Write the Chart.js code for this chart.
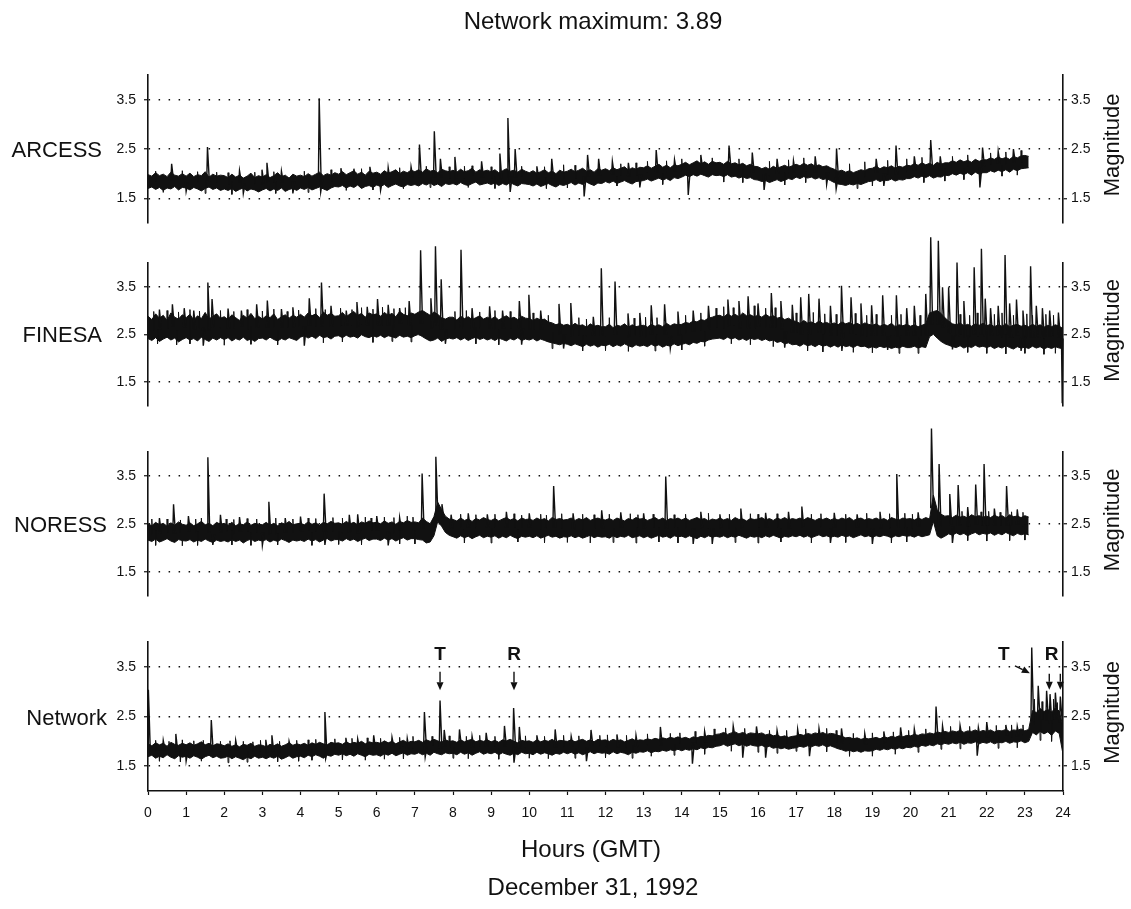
<!DOCTYPE html>
<html><head><meta charset="utf-8">
<script src="https://cdn.jsdelivr.net/npm/chart.js@4.4.1/dist/chart.umd.min.js"></script>
<style>
html,body{margin:0;padding:0;background:#fff;}
#wrap{position:relative;width:1131px;height:909px;overflow:hidden;background:#fff;}
canvas{position:absolute;left:0;}
</style></head><body>
<div id="wrap">
<canvas id="c1" width="1131" height="240" style="top:0px"></canvas>
<canvas id="c2" width="1131" height="192" style="top:230px"></canvas>
<canvas id="c3" width="1131" height="190" style="top:422px"></canvas>
<canvas id="c4" width="1131" height="297" style="top:612px"></canvas>
</div>
<script>
// ---------- DATA (hours 0..24 in 0.1 h steps: upper / lower edge of the dense trace) ----------
const STEP = 0.1;
const hourTicks = [0,1,2,3,4,5,6,7,8,9,10,11,12,13,14,15,16,17,18,19,20,21,22,23,24];
const magTicks = [1.5, 2.5, 3.5];
const stations = ['ARCESS', 'FINESA', 'NORESS', 'Network'];
const titleText = 'Network maximum: 3.89';
const axisTitle = 'Hours (GMT)';
const dateText = 'December 31, 1992';

const arcessHi = [
1.98,1.95,2.02,1.96,1.99,1.94,2.03,1.97,1.95,2.00, 1.95,2.01,1.94,1.98,1.96,2.04,1.93,1.99,1.95,1.97,
1.96,1.92,1.99,1.93,1.97,1.91,1.95,2.01,1.92,1.96, 1.93,1.98,1.92,1.96,2.02,1.94,1.97,1.91,1.99,1.95,
1.97,1.94,2.00,1.95,1.99,2.03,1.96,2.00,1.97,2.02, 1.99,2.04,1.98,2.02,2.06,1.99,2.03,1.97,2.05,2.01,
2.03,1.99,2.06,2.01,2.04,2.08,2.00,2.05,2.02,2.07, 2.04,2.08,2.03,2.10,2.05,2.07,2.02,2.09,2.06,2.04,
2.07,2.03,2.09,2.04,2.06,2.11,2.03,2.08,2.05,2.07, 2.04,2.08,2.02,2.06,2.10,2.05,2.07,2.03,2.09,2.05,
2.02,2.06,2.01,2.04,2.08,2.02,2.05,2.00,2.07,2.03, 2.05,2.09,2.04,2.07,2.11,2.05,2.08,2.03,2.10,2.07,
2.10,2.06,2.12,2.08,2.11,2.14,2.07,2.12,2.09,2.13, 2.12,2.16,2.11,2.15,2.19,2.13,2.17,2.12,2.18,2.16,
2.19,2.23,2.18,2.22,2.26,2.20,2.24,2.19,2.25,2.22, 2.23,2.19,2.25,2.20,2.22,2.18,2.21,2.16,2.19,2.15,
2.14,2.10,2.13,2.09,2.15,2.11,2.14,2.17,2.13,2.16, 2.19,2.16,2.21,2.17,2.20,2.15,2.18,2.14,2.16,2.12,
2.09,2.05,2.07,2.03,2.06,2.02,2.05,2.08,2.06,2.10, 2.11,2.15,2.10,2.14,2.12,2.16,2.11,2.15,2.13,2.17,
2.16,2.20,2.17,2.22,2.18,2.21,2.17,2.23,2.19,2.22, 2.22,2.26,2.23,2.28,2.24,2.27,2.23,2.29,2.25,2.28,
2.28,2.32,2.29,2.34,2.30,2.33,2.29,2.35,2.32,2.36, 2.37,2.35,null,null,null,null,null,null,null,null,
null];
const arcessLo = [
1.70,1.73,1.68,1.72,1.66,1.71,1.69,1.74,1.67,1.72, 1.71,1.67,1.72,1.69,1.65,1.70,1.73,1.68,1.71,1.66,
1.69,1.66,1.70,1.64,1.68,1.71,1.65,1.69,1.67,1.63, 1.67,1.70,1.65,1.69,1.66,1.71,1.64,1.68,1.70,1.66,
1.71,1.68,1.72,1.67,1.70,1.73,1.69,1.66,1.71,1.74, 1.73,1.76,1.71,1.75,1.72,1.77,1.70,1.74,1.76,1.72,
1.77,1.74,1.78,1.72,1.76,1.79,1.75,1.73,1.78,1.76, 1.78,1.75,1.80,1.77,1.81,1.76,1.79,1.74,1.80,1.78,
1.80,1.77,1.82,1.78,1.76,1.80,1.83,1.77,1.79,1.81, 1.78,1.81,1.76,1.80,1.77,1.82,1.78,1.75,1.80,1.79,
1.78,1.75,1.79,1.74,1.77,1.80,1.76,1.73,1.78,1.76, 1.79,1.82,1.77,1.81,1.78,1.83,1.79,1.76,1.81,1.80,
1.84,1.81,1.85,1.80,1.83,1.86,1.82,1.79,1.84,1.85, 1.86,1.89,1.85,1.88,1.91,1.87,1.90,1.86,1.92,1.90,
1.93,1.97,1.94,1.98,1.95,1.99,1.96,1.93,1.98,1.96, 1.97,1.94,1.98,1.93,1.95,1.91,1.94,1.90,1.92,1.88,
1.87,1.84,1.86,1.82,1.85,1.88,1.84,1.87,1.90,1.88, 1.93,1.90,1.94,1.91,1.93,1.89,1.92,1.88,1.90,1.86,
1.82,1.79,1.78,1.76,1.79,1.77,1.80,1.78,1.81,1.84, 1.85,1.88,1.84,1.87,1.86,1.89,1.85,1.88,1.87,1.90,
1.90,1.94,1.91,1.95,1.92,1.96,1.91,1.94,1.93,1.97, 1.96,2.00,1.97,2.01,1.98,2.02,1.97,2.03,1.99,2.02,
2.02,2.06,2.03,2.07,2.04,2.08,2.03,2.09,2.06,2.10, 2.11,2.12,null,null,null,null,null,null,null,null,
null];
const arcessSpikeHours = [0.62,1.00,1.56,2.40,2.50,2.99,3.12,3.50,3.80,4.49,4.53,5.06,5.40,5.82,6.10,6.30,6.90,7.12,7.51,7.67,
 8.05,8.75,9.23,9.44,9.50,9.63,10.20,10.59,11.44,11.53,11.82,12.18,12.60,12.90,13.33,13.81,14.17,14.50,15.24,15.85,
 16.16,16.50,16.93,17.50,17.80,18.05,18.06,19.10,19.30,19.62,20.10,20.53,20.78,21.82,21.89,22.30,22.70];
const arcessSpikeMags = [2.20,1.64,2.54,2.06,1.60,2.08,2.22,2.05,1.60,3.53,1.63,2.11,2.10,2.14,1.66,2.12,2.14,2.59,2.86,2.30,
 2.34,2.25,2.41,3.13,1.63,2.50,2.15,2.30,1.54,2.38,2.30,2.25,2.22,1.72,2.48,2.28,1.57,2.38,2.57,2.43,
 1.67,2.30,2.26,2.35,1.78,1.69,2.51,2.30,1.75,2.57,2.35,2.68,2.35,1.72,2.53,2.45,2.50];
const arcessHairHours = [0.2,0.9,1.3,1.8,2.1,2.8,3.3,4.1,4.8,5.6,6.6,7.3,7.9,8.3,8.5,9.0,9.8,10.4,10.9,11.2,
 12.4,12.8,13.1,13.6,14.0,14.8,15.5,16.3,16.8,17.2,18.4,18.8,19.4,19.9,20.3,21.1,21.5,22.1,22.5,22.9,
 0.4,1.5,2.2,3.35,4.2,5.2,5.9,6.7,7.4,8.4,9.1,10.45,11.0,12.3,13.5,15.1,15.6,16.7,17.25,18.6,19.0,20.35,20.9,21.4,22.4,22.8];
const arcessHairMags = [2.05,2.06,2.04,2.03,2.02,2.03,2.04,2.05,2.08,2.10,2.12,2.15,2.14,2.15,2.16,2.14,2.15,2.14,2.18,2.17,
 2.20,2.22,2.25,2.26,2.30,2.32,2.30,2.25,2.28,2.32,2.20,2.24,2.27,2.30,2.33,2.35,2.38,2.42,2.44,2.47,
 1.62,1.60,1.58,1.60,1.62,1.66,1.67,1.70,1.72,1.72,1.70,1.70,1.71,1.75,1.78,1.83,1.82,1.77,1.82,1.70,1.75,1.82,1.85,1.88,1.95,1.97];

const finesaHi = [
2.88,2.81,2.93,2.84,2.90,2.79,2.95,2.86,2.82,2.91, 2.85,2.92,2.80,2.89,2.83,2.96,2.82,2.88,2.93,2.84,
2.87,2.81,2.91,2.85,2.79,2.90,2.84,2.94,2.83,2.88, 2.82,2.89,2.85,2.93,2.81,2.87,2.91,2.84,2.90,2.86,
2.92,2.86,2.95,2.89,2.93,2.85,2.97,2.90,2.94,2.88, 2.89,2.96,2.87,2.93,2.98,2.90,2.94,2.86,2.95,2.91,
2.93,2.88,2.96,2.90,2.94,2.87,2.98,2.92,2.89,2.95, 2.92,2.97,3.00,2.95,2.90,2.97,2.92,2.85,2.82,2.86,
2.86,2.80,2.88,2.83,2.87,2.81,2.85,2.89,2.82,2.86, 2.82,2.87,2.80,2.85,2.89,2.83,2.86,2.81,2.88,2.84,
2.83,2.79,2.84,2.80,2.82,2.76,2.74,2.70,2.73,2.69, 2.71,2.67,2.73,2.68,2.70,2.65,2.72,2.67,2.69,2.66,
2.66,2.71,2.64,2.69,2.67,2.72,2.65,2.70,2.66,2.68, 2.69,2.65,2.71,2.67,2.70,2.66,2.73,2.68,2.72,2.70,
2.71,2.75,2.73,2.78,2.76,2.81,2.79,2.84,2.86,2.89, 2.90,2.86,2.93,2.88,2.92,2.87,2.95,2.89,2.91,2.87,
2.90,2.86,2.92,2.87,2.89,2.84,2.86,2.81,2.84,2.79, 2.77,2.73,2.79,2.74,2.76,2.72,2.78,2.73,2.75,2.71,
2.74,2.70,2.76,2.72,2.75,2.70,2.73,2.69,2.74,2.71, 2.69,2.72,2.67,2.71,2.68,2.73,2.66,2.70,2.68,2.71,
2.67,2.70,2.66,2.69,2.72,2.95,2.98,3.00,2.94,2.85, 2.78,2.72,2.70,2.74,2.68,2.71,2.67,2.72,2.69,2.73,
2.68,2.71,2.66,2.70,2.67,2.72,2.66,2.69,2.71,2.67, 2.69,2.66,2.71,2.67,2.70,2.65,2.69,2.66,2.70,2.67,
2.62];
const finesaLo = [
2.41,2.37,2.43,2.35,2.40,2.44,2.38,2.42,2.34,2.39, 2.43,2.38,2.41,2.36,2.44,2.39,2.35,2.42,2.38,2.43,
2.39,2.43,2.36,2.41,2.38,2.44,2.37,2.40,2.35,2.41, 2.42,2.38,2.44,2.39,2.36,2.41,2.38,2.43,2.40,2.37,
2.44,2.47,2.42,2.46,2.41,2.48,2.43,2.45,2.40,2.46, 2.47,2.43,2.48,2.44,2.46,2.42,2.49,2.45,2.43,2.47,
2.44,2.48,2.43,2.47,2.45,2.42,2.48,2.44,2.46,2.43, 2.47,2.50,2.45,2.40,2.36,2.38,2.42,2.35,2.40,2.42,
2.40,2.43,2.38,2.42,2.37,2.41,2.44,2.39,2.42,2.38, 2.41,2.37,2.42,2.39,2.36,2.41,2.38,2.43,2.37,2.40,
2.38,2.41,2.36,2.40,2.37,2.34,2.32,2.30,2.28,2.31, 2.29,2.26,2.30,2.27,2.24,2.29,2.25,2.28,2.23,2.27,
2.26,2.29,2.24,2.28,2.25,2.30,2.26,2.23,2.28,2.25, 2.27,2.24,2.29,2.25,2.28,2.23,2.27,2.25,2.30,2.26,
2.29,2.31,2.28,2.33,2.31,2.35,2.34,2.38,2.40,2.41, 2.42,2.39,2.44,2.40,2.43,2.38,2.41,2.37,2.42,2.39,
2.41,2.37,2.40,2.36,2.38,2.33,2.35,2.30,2.32,2.28, 2.29,2.25,2.30,2.26,2.28,2.24,2.29,2.25,2.27,2.23,
2.27,2.23,2.28,2.24,2.26,2.22,2.27,2.24,2.25,2.21, 2.24,2.21,2.25,2.22,2.24,2.20,2.23,2.21,2.25,2.22,
2.22,2.25,2.21,2.24,2.22,2.45,2.50,2.42,2.35,2.30, 2.27,2.24,2.22,2.26,2.21,2.25,2.22,2.27,2.23,2.25,
2.22,2.25,2.20,2.24,2.21,2.26,2.22,2.19,2.24,2.21, 2.23,2.20,2.25,2.21,2.24,2.19,2.23,2.20,2.24,2.21,
2.20];
const finesaSpikeHours = [0.30,0.64,0.95,1.20,1.45,1.57,1.68,2.10,2.45,2.85,3.13,3.50,3.80,4.10,4.23,4.55,4.80,5.20,5.48,5.75,
 6.02,6.30,6.60,6.85,7.15,7.42,7.54,7.69,7.80,8.21,8.50,8.96,9.30,9.74,9.80,9.99,10.30,10.78,10.90,11.09,
 11.68,11.89,12.25,12.59,12.90,13.20,13.55,13.70,13.90,14.30,14.70,15.21,15.50,15.74,16.00,16.35,16.60,16.70,16.90,17.12,
 17.33,17.60,17.90,18.19,18.20,18.44,18.70,18.98,19.27,19.40,19.63,19.90,20.10,20.40,20.53,20.73,20.84,21.00,21.10,21.22,
 21.40,21.67,21.86,21.96,22.10,22.30,22.48,22.60,22.78,22.90,22.95,23.15,23.30,23.46,23.65,23.88,23.98];
const finesaSpikeMags = [3.02,3.13,3.05,3.00,2.26,3.59,3.24,3.04,3.00,3.13,3.21,3.03,3.07,2.26,3.26,3.59,3.10,3.00,3.18,3.08,
 3.24,3.12,3.05,3.20,4.27,3.26,4.35,3.66,2.30,4.28,3.05,3.09,3.00,3.20,2.28,3.33,3.00,3.14,2.20,3.16,
 2.87,3.89,3.61,2.94,2.95,3.11,3.13,2.20,2.98,3.00,3.10,3.23,3.20,3.30,3.15,3.37,3.20,2.22,3.12,3.28,
 3.35,3.25,3.10,3.52,2.15,3.28,3.15,3.11,3.32,2.17,3.32,3.05,3.10,3.35,4.54,4.47,3.49,3.49,2.18,4.01,
 3.20,3.91,4.30,3.25,3.05,3.10,4.17,3.15,3.23,2.15,3.00,3.93,3.10,3.05,3.00,2.96,1.05];
const finesaHairHours = [0.15,0.5,0.8,1.1,1.35,1.9,2.25,2.6,3.0,3.3,3.65,3.95,4.4,4.65,5.05,5.35,5.6,5.9,6.15,6.45,6.75,
 8.05,8.35,8.7,9.1,9.5,10.1,10.5,11.3,11.5,12.1,12.75,13.05,13.35,14.1,14.5,14.9,15.1,15.35,15.9,16.2,16.45,
 17.0,17.45,17.75,18.05,18.55,18.85,19.1,19.5,19.75,20.25,21.3,21.55,21.75,22.2,22.4,22.7,23.05,23.2,23.55,23.75,
 0.25,0.75,1.1,2.0,2.7,3.4,4.6,5.1,5.9,6.4,6.9,8.6,9.2,10.6,11.4,12.0,12.6,13.3,14.0,14.6,15.3,15.8,16.4,
 17.3,17.7,18.5,19.0,19.7,20.2,21.5,22.0,22.5,23.0,23.5,23.8];
const finesaHairMags = [2.98,3.00,2.97,3.02,2.99,3.00,2.98,3.02,2.99,3.03,2.98,3.01,3.04,3.02,3.05,3.02,3.06,3.03,3.07,3.04,3.06,
 2.98,3.00,2.97,3.00,2.98,2.95,2.90,2.85,2.82,2.85,2.84,2.86,2.85,2.90,2.95,3.05,3.08,3.06,3.10,3.05,3.06,
 2.95,2.96,2.93,2.92,2.94,2.90,2.92,2.90,2.92,2.90,2.92,2.90,2.95,2.92,2.95,2.90,2.93,2.90,2.92,2.90,
 2.30,2.28,2.30,2.27,2.29,2.28,2.32,2.34,2.33,2.35,2.34,2.30,2.28,2.20,2.15,2.16,2.14,2.15,2.17,2.25,2.30,2.28,2.24,
 2.15,2.13,2.12,2.11,2.10,2.10,2.12,2.10,2.09,2.10,2.08,2.10];

const noressHi = [
2.50,2.46,2.53,2.48,2.51,2.45,2.52,2.47,2.54,2.49, 2.47,2.52,2.46,2.50,2.55,2.48,2.51,2.46,2.53,2.49,
2.51,2.47,2.53,2.46,2.50,2.48,2.54,2.47,2.51,2.49, 2.48,2.53,2.47,2.51,2.46,2.52,2.49,2.55,2.48,2.50,
2.51,2.48,2.54,2.49,2.52,2.47,2.53,2.50,2.55,2.51, 2.52,2.49,2.55,2.50,2.53,2.48,2.54,2.51,2.56,2.52,
2.53,2.50,2.56,2.51,2.54,2.49,2.55,2.52,2.57,2.53, 2.54,2.52,2.62,2.55,2.50,2.65,2.95,2.80,2.66,2.60,
2.59,2.56,2.62,2.57,2.60,2.55,2.61,2.58,2.63,2.59, 2.57,2.61,2.56,2.60,2.63,2.58,2.61,2.56,2.62,2.59,
2.60,2.57,2.62,2.58,2.61,2.56,2.63,2.59,2.61,2.58, 2.59,2.62,2.57,2.61,2.58,2.63,2.57,2.60,2.62,2.59,
2.58,2.61,2.57,2.62,2.59,2.56,2.61,2.58,2.63,2.60, 2.61,2.57,2.60,2.63,2.58,2.62,2.57,2.61,2.59,2.62,
2.58,2.62,2.57,2.60,2.63,2.59,2.61,2.56,2.60,2.58, 2.62,2.58,2.61,2.57,2.63,2.59,2.60,2.56,2.61,2.59,
2.60,2.63,2.58,2.61,2.57,2.62,2.59,2.63,2.58,2.61, 2.59,2.62,2.58,2.63,2.60,2.57,2.61,2.59,2.62,2.58,
2.61,2.58,2.62,2.59,2.63,2.57,2.60,2.62,2.58,2.61, 2.59,2.62,2.58,2.61,2.57,2.63,2.60,2.58,2.62,2.60,
2.61,2.58,2.62,2.59,2.63,2.60,3.10,2.80,2.70,2.66, 2.67,2.63,2.68,2.64,2.66,2.62,2.69,2.65,2.67,2.64,
2.66,2.63,2.68,2.64,2.67,2.62,2.69,2.65,2.66,2.63, 2.67,2.64,null,null,null,null,null,null,null,null,
null];
const noressLo = [
2.16,2.13,2.18,2.12,2.15,2.19,2.14,2.11,2.17,2.15, 2.14,2.17,2.12,2.16,2.13,2.18,2.14,2.11,2.16,2.13,
2.15,2.12,2.17,2.13,2.16,2.10,2.15,2.18,2.13,2.16, 2.14,2.17,2.12,2.16,2.13,2.18,2.15,2.11,2.16,2.14,
2.16,2.13,2.18,2.14,2.17,2.12,2.16,2.19,2.14,2.17, 2.17,2.14,2.19,2.15,2.18,2.13,2.17,2.20,2.15,2.18,
2.18,2.15,2.20,2.16,2.19,2.14,2.18,2.21,2.16,2.19, 2.19,2.17,2.16,2.10,2.12,2.25,2.55,2.45,2.32,2.26,
2.23,2.20,2.25,2.21,2.24,2.19,2.23,2.26,2.21,2.24, 2.22,2.25,2.20,2.24,2.21,2.26,2.22,2.19,2.24,2.22,
2.24,2.21,2.25,2.20,2.23,2.26,2.22,2.24,2.20,2.23, 2.22,2.25,2.21,2.24,2.20,2.23,2.26,2.21,2.24,2.22,
2.23,2.20,2.25,2.21,2.24,2.22,2.26,2.21,2.23,2.25, 2.21,2.24,2.20,2.23,2.26,2.22,2.24,2.20,2.25,2.23,
2.24,2.21,2.25,2.22,2.19,2.24,2.21,2.25,2.22,2.24, 2.22,2.25,2.21,2.24,2.22,2.26,2.23,2.20,2.24,2.22,
2.24,2.21,2.25,2.22,2.26,2.23,2.20,2.24,2.22,2.25, 2.23,2.26,2.22,2.25,2.21,2.24,2.27,2.23,2.25,2.22,
2.24,2.22,2.26,2.23,2.25,2.21,2.24,2.27,2.23,2.25, 2.22,2.25,2.23,2.26,2.24,2.21,2.25,2.23,2.26,2.24,
2.25,2.22,2.26,2.23,2.25,2.27,2.55,2.25,2.20,2.24, 2.29,2.26,2.31,2.27,2.30,2.25,2.29,2.32,2.27,2.30,
2.28,2.31,2.26,2.30,2.27,2.32,2.28,2.25,2.30,2.27, 2.29,2.27,null,null,null,null,null,null,null,null,
null];
const noressSpikeHours = [0.30,0.67,1.06,1.57,1.70,1.90,2.40,3.00,3.17,3.60,4.00,4.62,4.64,5.28,5.50,6.00,6.30,6.60,7.19,7.55,
 7.71,7.95,8.40,8.90,9.40,10.00,10.64,11.15,11.90,12.40,13.00,13.58,14.30,14.50,14.80,15.00,15.55,16.20,16.80,17.15,
 17.90,18.00,18.60,19.00,19.20,19.64,20.20,20.55,20.75,21.03,21.10,21.25,21.50,21.71,21.93,22.20,22.52,22.80];
const noressSpikeMags = [2.62,2.91,2.66,3.89,2.06,2.69,2.64,2.05,2.96,2.62,2.65,3.13,2.06,2.69,2.70,2.66,2.05,2.63,3.55,3.90,
 2.91,2.69,2.72,2.70,2.75,2.72,3.29,2.72,2.78,2.74,2.72,3.49,2.08,2.75,2.08,2.70,2.82,2.73,2.75,2.86,
 2.10,2.73,2.70,2.08,2.75,3.54,2.74,4.49,3.75,3.12,2.10,3.31,2.85,3.32,3.75,2.82,3.29,2.80];
const noressHairHours = [0.1,0.5,0.85,1.25,1.4,2.05,2.25,2.6,2.85,3.35,3.8,4.2,4.4,4.85,5.1,5.7,5.85,6.2,6.45,6.8,6.95,
 8.2,8.6,9.1,9.6,9.8,10.3,10.45,10.85,11.4,11.7,12.1,12.65,12.85,13.25,13.8,14.1,14.7,15.25,15.8,16.0,16.5,
 17.4,17.65,18.3,18.85,19.45,19.85,20.05,21.35,21.85,22.05,22.35,22.65,22.95,
 0.2,0.9,1.3,2.2,2.7,3.4,4.3,5.0,5.6,6.6,7.0,8.3,9.0,9.7,10.4,11.0,11.6,12.2,12.8,13.4,13.9,15.4,16.0,16.6,
 17.4,18.3,19.5,19.9,21.5,22.0,22.6,23.0];
const noressHairMags = [2.60,2.60,2.58,2.60,2.62,2.60,2.59,2.61,2.60,2.62,2.60,2.62,2.61,2.63,2.62,2.64,2.62,2.64,2.63,2.66,2.64,
 2.70,2.69,2.70,2.71,2.68,2.70,2.68,2.71,2.70,2.69,2.70,2.71,2.69,2.70,2.69,2.70,2.72,2.70,2.71,2.70,2.71,
 2.70,2.71,2.70,2.72,2.71,2.72,2.70,2.76,2.75,2.76,2.74,2.75,2.74,
 2.05,2.04,2.05,2.06,2.05,2.06,2.05,2.07,2.06,2.08,2.08,2.10,2.10,2.12,2.10,2.11,2.10,2.11,2.10,2.12,2.10,2.11,2.10,2.12,
 2.10,2.11,2.10,2.12,2.15,2.14,2.15,2.16];

const networkHi = [
1.95,1.91,1.97,1.93,1.96,1.90,1.98,1.94,1.92,1.96, 1.93,1.97,1.92,1.95,1.99,1.93,1.96,1.91,1.95,1.94,
1.91,1.95,1.90,1.93,1.89,1.94,1.92,1.96,1.90,1.93, 1.92,1.89,1.94,1.91,1.95,1.90,1.93,1.97,1.92,1.95,
1.93,1.96,1.92,1.97,1.94,1.98,1.95,1.93,1.98,1.96, 1.97,1.94,1.99,1.95,1.98,1.96,2.00,1.95,1.99,1.97,
1.98,1.96,2.01,1.97,2.00,1.95,1.99,2.02,1.97,2.00, 1.99,2.02,1.98,2.03,2.00,2.04,2.01,1.98,2.03,2.00,
2.01,1.98,2.03,1.99,2.02,2.04,1.99,2.02,2.00,2.03, 1.99,2.02,1.98,2.03,2.01,2.04,2.00,1.97,2.02,2.00,
2.01,1.98,2.03,1.99,2.02,2.00,2.04,1.99,2.02,2.01, 2.00,2.03,1.99,2.02,2.04,2.00,2.03,1.99,2.04,2.02,
2.03,2.00,2.04,2.01,2.03,1.99,2.02,2.05,2.01,2.03, 2.02,2.05,2.03,2.06,2.04,2.07,2.05,2.08,2.06,2.09,
2.06,2.08,2.05,2.09,2.07,2.10,2.09,2.12,2.11,2.14, 2.15,2.18,2.14,2.17,2.19,2.15,2.18,2.14,2.17,2.16,
2.15,2.17,2.13,2.15,2.11,2.13,2.09,2.11,2.08,2.10, 2.11,2.14,2.12,2.16,2.14,2.17,2.15,2.18,2.14,2.16,
2.15,2.12,2.10,2.07,2.08,2.05,2.07,2.04,2.06,2.05, 2.06,2.08,2.05,2.09,2.07,2.10,2.08,2.11,2.09,2.12,
2.11,2.14,2.12,2.15,2.14,2.17,2.15,2.19,2.17,2.20, 2.18,2.21,2.19,2.22,2.18,2.21,2.20,2.23,2.19,2.22,
2.20,2.23,2.19,2.22,2.21,2.24,2.20,2.23,2.22,2.25, 2.21,2.24,2.62,2.58,2.66,2.60,2.64,2.59,2.67,2.61,
2.30];
const networkLo = [
1.69,1.72,1.66,1.70,1.67,1.73,1.68,1.65,1.71,1.68, 1.70,1.66,1.71,1.68,1.64,1.69,1.72,1.67,1.70,1.66,
1.67,1.70,1.65,1.69,1.66,1.63,1.68,1.65,1.70,1.66, 1.68,1.65,1.69,1.66,1.70,1.64,1.67,1.71,1.66,1.69,
1.70,1.67,1.72,1.69,1.73,1.70,1.66,1.72,1.70,1.74, 1.72,1.75,1.71,1.74,1.70,1.75,1.72,1.69,1.74,1.72,
1.73,1.70,1.75,1.72,1.76,1.71,1.74,1.77,1.72,1.75, 1.74,1.77,1.73,1.76,1.72,1.78,1.75,1.73,1.77,1.75,
1.76,1.73,1.78,1.74,1.77,1.72,1.76,1.79,1.74,1.77, 1.75,1.78,1.73,1.77,1.74,1.72,1.76,1.73,1.78,1.75,
1.76,1.73,1.78,1.74,1.77,1.75,1.72,1.76,1.74,1.78, 1.75,1.78,1.74,1.77,1.73,1.76,1.79,1.75,1.78,1.76,
1.77,1.74,1.79,1.75,1.78,1.76,1.73,1.78,1.76,1.79, 1.78,1.81,1.77,1.80,1.79,1.82,1.80,1.83,1.81,1.84,
1.81,1.84,1.82,1.85,1.83,1.87,1.85,1.88,1.87,1.90, 1.91,1.94,1.90,1.93,1.95,1.91,1.94,1.90,1.93,1.91,
1.90,1.92,1.88,1.90,1.86,1.88,1.85,1.87,1.84,1.86, 1.87,1.90,1.88,1.91,1.89,1.92,1.90,1.93,1.89,1.91,
1.88,1.85,1.83,1.80,1.82,1.79,1.81,1.78,1.81,1.80, 1.81,1.84,1.82,1.85,1.83,1.86,1.84,1.87,1.85,1.88,
1.87,1.90,1.88,1.92,1.90,1.93,1.91,1.95,1.93,1.96, 1.94,1.97,1.95,1.98,1.94,1.97,1.96,1.99,1.95,1.98,
1.96,1.99,1.95,1.98,1.97,2.00,1.96,1.99,1.98,2.01, 1.97,2.00,2.18,2.13,2.20,2.15,2.19,2.12,2.21,2.16,
1.74];
const networkSpikeHours = [0.01,0.40,0.73,1.00,1.66,2.30,3.09,3.25,3.70,4.64,4.66,5.19,5.50,5.92,6.40,6.80,7.25,7.27,7.66,7.77,
 8.17,8.50,8.87,9.35,9.59,9.60,9.74,10.20,10.68,11.10,11.50,11.62,12.30,12.80,13.44,14.28,14.60,15.35,15.60,15.96,
 16.20,16.50,17.04,17.35,17.60,18.19,18.80,19.30,19.74,20.10,20.67,20.84,21.30,21.75,21.78,22.00,22.50,22.80,23.18,23.35,
 23.57,23.66,23.80,23.93];
const networkSpikeMags = [3.04,2.02,2.15,1.60,2.43,2.02,2.03,2.12,2.00,2.59,1.65,2.07,2.05,2.12,2.08,2.06,2.59,1.68,2.82,2.23,
 2.24,2.10,2.17,2.31,2.67,1.57,2.29,2.12,2.24,2.10,1.60,2.23,2.14,2.12,2.29,1.55,2.20,2.31,1.67,2.30,
 1.67,2.22,2.24,1.70,2.26,2.26,2.16,2.20,2.28,2.25,2.70,2.31,2.32,1.71,2.28,2.39,2.33,2.30,3.89,3.12,
 3.02,2.95,2.98,2.90];
const networkHairHours = [0.2,0.55,0.9,1.2,1.45,1.9,2.15,2.5,2.75,2.95,3.45,3.9,4.2,4.4,4.9,5.35,5.75,6.1,6.6,6.95,
 7.45,7.9,8.35,8.7,9.1,9.9,10.4,10.9,11.3,11.85,12.05,12.55,13.1,13.7,13.95,14.35,14.85,15.15,15.65,16.3,
 16.75,17.25,17.8,18.05,18.5,19.0,19.55,19.95,20.4,21.05,21.55,22.25,22.65,22.95,23.25,23.45,23.75,23.85,
 0.3,0.85,1.4,2.1,2.6,3.4,3.95,4.3,5.1,5.7,6.2,6.7,8.0,8.4,9.2,10.0,10.5,11.2,12.0,12.7,13.2,13.8,14.6,
 15.3,16.0,16.5,17.0,17.8,18.4,19.0,19.6,20.2,20.8,21.3,22.3,22.8,23.4,23.7];
const networkHairMags = [2.02,2.00,2.03,2.01,2.02,2.00,2.01,2.00,1.99,2.02,2.00,2.02,2.03,2.04,2.05,2.06,2.07,2.06,2.08,2.10,
 2.10,2.11,2.10,2.12,2.10,2.11,2.10,2.12,2.11,2.12,2.13,2.12,2.15,2.16,2.17,2.20,2.25,2.27,2.26,2.22,
 2.22,2.25,2.26,2.22,2.16,2.17,2.19,2.22,2.25,2.30,2.30,2.32,2.33,2.33,2.85,2.80,2.85,2.78,
 1.60,1.59,1.60,1.57,1.58,1.59,1.60,1.62,1.63,1.62,1.64,1.65,1.66,1.65,1.64,1.66,1.65,1.66,1.67,1.66,1.70,1.72,1.74,
 1.80,1.78,1.76,1.80,1.79,1.70,1.70,1.74,1.78,1.84,1.85,1.86,1.87,2.02,2.00];

// annotations on the Network trace (T / R arrivals)
const noteText = ['T','R','T','R'];
const noteHour = [7.66, 9.60, 22.45, 23.70];
const noteMag = [3.74, 3.74, 3.74, 3.74];
const arrowHour0 = [7.66, 9.60, 22.74, 23.64, 23.93];
const arrowMag0 = [3.40, 3.40, 3.52, 3.36, 3.36];
const arrowHour1 = [7.66, 9.60, 23.13, 23.64, 23.93];
const arrowMag1 = [3.03, 3.03, 3.37, 3.04, 3.04];

// ---------- CHART ----------
const INK = '#111';
const FONT = '"Liberation Sans", Arial, Helvetica, sans-serif';
Chart.defaults.font.family = FONT;
Chart.defaults.color = INK;

function bandPoints(vals) { return vals.map((v, i) => ({x: Math.round(i * STEP * 10) / 10, y: v})); }
function midAt(hi, lo, t) {
  let i = Math.min(hi.length - 1, Math.round(t / STEP));
  while (i > 0 && hi[i] == null) i--;
  return (hi[i] + lo[i]) / 2;
}
function spikePoints(hours, mags, hi, lo, before, after) {
  const pts = [];
  hours.forEach((t, k) => {
    const b = midAt(hi, lo, t);
    const a = Math.max(0, t - before), c = Math.min(24, t + after);
    pts.push({x: a, y: b}, {x: t, y: mags[k]}, {x: c, y: b}, {x: c, y: null});
  });
  return pts;
}
function makeDatasets(p) {
  return [
    {data: bandPoints(p.hi), borderColor: INK, backgroundColor: INK, borderWidth: 1, pointRadius: 0, fill: '+1', tension: 0, spanGaps: false, order: 3},
    {data: bandPoints(p.lo), borderColor: INK, borderWidth: 1, pointRadius: 0, fill: false, tension: 0, spanGaps: false, order: 3},
    {data: spikePoints(p.hh, p.hm, p.hi, p.lo, 0.01, 0.02), borderColor: INK, borderWidth: 1, pointRadius: 0, fill: false, tension: 0, spanGaps: false, clip: false, order: 2},
    {data: spikePoints(p.sh, p.sm, p.hi, p.lo, 0.02, 0.05), borderColor: INK, borderWidth: 1.4, pointRadius: 0, fill: false, tension: 0, spanGaps: false, clip: false, order: 1}
  ];
}
function yAxis(position) {
  const left = position === 'left';
  return {
    type: 'linear', position, min: 1, max: 4,
    afterBuildTicks: s => { s.ticks = magTicks.map(v => ({value: v})); },
    afterFit: s => { s.width = left ? 148 : 68; },
    ticks: {font: {size: 14}, color: INK, padding: left ? 8 : 4, callback: v => Number(v).toFixed(1)},
    grid: {display: true, drawOnChartArea: left, color: INK, lineWidth: 1.5, drawTicks: true, tickLength: 4, tickColor: INK, tickWidth: 1.2},
    border: {display: true, color: INK, width: 1.6, dash: [1.5, 8.5]}
  };
}

const decor = {
  id: 'decor',
  afterDraw(chart, args, o) {
    if (!o || !o.label) return;
    const ctx = chart.ctx, xs = chart.scales.x, ys = chart.scales.y;
    const top = chart.canvas.offsetTop;
    ctx.save();
    ctx.fillStyle = INK; ctx.strokeStyle = INK;
    ctx.font = '22px ' + FONT;
    ctx.textAlign = 'right'; ctx.textBaseline = 'middle';
    ctx.fillText(o.label, o.labelRight, ys.getPixelForValue(2.5) + 2);
    ctx.save();
    ctx.translate(1113, (ys.top + ys.bottom) / 2 - 4);
    ctx.rotate(-Math.PI / 2);
    ctx.textAlign = 'center';
    ctx.fillText('Magnitude', 0, 0);
    ctx.restore();
    ctx.textAlign = 'center';
    ctx.font = '24px ' + FONT;
    if (o.title) ctx.fillText(o.title, 593, 22 - top);
    if (o.xTitle) ctx.fillText(o.xTitle, 591, 850 - top);
    if (o.date) ctx.fillText(o.date, 593, 888 - top);
    if (o.notes) {
      ctx.font = 'bold 19px ' + FONT;
      noteText.forEach((t, i) => ctx.fillText(t, xs.getPixelForValue(noteHour[i]), ys.getPixelForValue(noteMag[i])));
      ctx.lineWidth = 1.4;
      arrowHour0.forEach((h, i) => {
        const x0 = xs.getPixelForValue(h), y0 = ys.getPixelForValue(arrowMag0[i]);
        const x1 = xs.getPixelForValue(arrowHour1[i]), y1 = ys.getPixelForValue(arrowMag1[i]);
        const ang = Math.atan2(y1 - y0, x1 - x0), L = 8, W = 3.5;
        const bx = x1 - L * Math.cos(ang), by = y1 - L * Math.sin(ang);
        ctx.beginPath(); ctx.moveTo(x0, y0); ctx.lineTo(bx, by); ctx.stroke();
        ctx.beginPath();
        ctx.moveTo(x1, y1);
        ctx.lineTo(bx + W * Math.sin(ang), by - W * Math.cos(ang));
        ctx.lineTo(bx - W * Math.sin(ang), by + W * Math.cos(ang));
        ctx.closePath(); ctx.fill();
      });
    }
    ctx.restore();
  }
};
Chart.register(decor);

function makeChart(id, p) {
  const showX = !!p.showX;
  const scales = {
    x: showX ? {
      type: 'linear', position: 'bottom', min: 0, max: 24,
      afterBuildTicks: s => { s.ticks = hourTicks.map(v => ({value: v})); },
      afterFit: s => { s.height = 118; },
      ticks: {font: {size: 14}, color: INK, padding: 10, maxRotation: 0, autoSkip: false},
      grid: {drawOnChartArea: false, drawTicks: true, tickLength: 4, tickColor: INK, tickWidth: 1.2},
      border: {display: true, color: INK, width: 1.6}
    } : {type: 'linear', display: false, min: 0, max: 24},
    y: yAxis('left'),
    y2: yAxis('right')
  };
  return new Chart(document.getElementById(id), {
    type: 'line',
    data: {datasets: makeDatasets(p)},
    options: {
      responsive: false, animation: false, events: [],
      layout: {padding: {top: p.padTop, bottom: p.padBottom, left: 0, right: 0}},
      plugins: {
        legend: {display: false}, tooltip: {enabled: false}, title: {display: false},
        decor: {label: p.label, labelRight: p.labelRight, notes: !!p.notes, title: p.title || '', xTitle: p.xTitle || '', date: p.date || ''}
      },
      scales
    }
  });
}

makeChart('c1', {hi: arcessHi, lo: arcessLo, sh: arcessSpikeHours, sm: arcessSpikeMags, hh: arcessHairHours, hm: arcessHairMags,
  label: stations[0], labelRight: 102, title: titleText, padTop: 75, padBottom: 17});
makeChart('c2', {hi: finesaHi, lo: finesaLo, sh: finesaSpikeHours, sm: finesaSpikeMags, hh: finesaHairHours, hm: finesaHairMags,
  label: stations[1], labelRight: 102, padTop: 33, padBottom: 11});
makeChart('c3', {hi: noressHi, lo: noressLo, sh: noressSpikeHours, sm: noressSpikeMags, hh: noressHairHours, hm: noressHairMags,
  label: stations[2], labelRight: 107, padTop: 30, padBottom: 11});
makeChart('c4', {hi: networkHi, lo: networkLo, sh: networkSpikeHours, sm: networkSpikeMags, hh: networkHairHours, hm: networkHairMags,
  label: stations[3], labelRight: 107, notes: true, showX: true, xTitle: axisTitle, date: dateText, padTop: 30, padBottom: 0});
</script>
</body></html>
